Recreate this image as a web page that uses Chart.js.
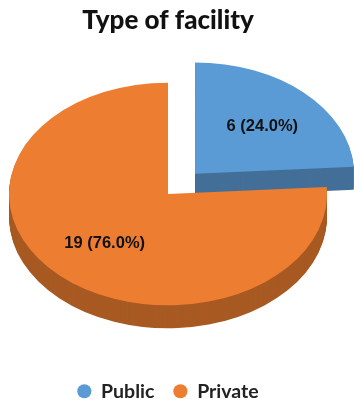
<!DOCTYPE html>
<html>
<head>
<meta charset="utf-8">
<script src="https://cdn.jsdelivr.net/npm/chart.js@4"></script>
<style>
  html, body { margin: 0; padding: 0; background: #fff; }
  canvas { display: block; }
</style>
</head>
<body>
<canvas id="grafica" width="354" height="402"></canvas>
<script>
const categorias = ['Public', 'Private'];
const valores = [6, 19];
const etiquetas = ['6 (24.0%)', '19 (76.0%)'];
const colores = ['#5B9BD5', '#ED7D31'];
const coloresLado = ['#436F98', '#A85A23'];

const inclinacion = 0.7;   // the flat pie is squashed to look tilted
const grosor = 23;         // height of the side wall
const centroY = 194;

// tilts the pie and draws the side wall plus the text on top
const pie3d = {
  id: 'pie3d',
  beforeDatasetsDraw(chart) {
    const ctx = chart.ctx;
    const arcos = chart.getDatasetMeta(0).data;
    ctx.save();
    ctx.translate(0, centroY - arcos[0].y * inclinacion);
    ctx.scale(1, inclinacion);
    arcos.forEach((arco, i) => {
      const original = arco.options;
      arco.options = { ...original, backgroundColor: coloresLado[i] };
      for (let d = grosor; d > 0; d--) {
        ctx.save();
        ctx.translate(0, d / inclinacion);
        arco.draw(ctx);
        ctx.restore();
      }
      arco.options = original;
    });
  },
  afterDatasetsDraw(chart) {
    const ctx = chart.ctx;
    ctx.restore();
    chart.getDatasetMeta(0).data.forEach((arco, i) => {
      const medio = (arco.startAngle + arco.endAngle) / 2;
      const dist = arco.outerRadius * 0.6 + arco.options.offset / 4;
      const x = arco.x + Math.cos(medio) * dist + 2;
      const y = centroY + Math.sin(medio) * dist * inclinacion + 1;
      ctx.save();
      ctx.font = 'bold 16.5px "Liberation Sans"';
      ctx.fillStyle = '#111';
      ctx.textAlign = 'center';
      ctx.textBaseline = 'middle';
      ctx.fillText(etiquetas[i], x, y);
      ctx.restore();
    });
  }
};

new Chart(document.getElementById('grafica'), {
  type: 'pie',
  data: {
    labels: categorias,
    datasets: [{
      data: valores,
      backgroundColor: colores,
      borderWidth: 0,
      offset: [158, 0],
      radius: 159,
      clip: false
    }]
  },
  options: {
    responsive: false,
    animation: false,
    layout: { padding: { right: 18, top: 0, bottom: -9 } },
    plugins: {
      tooltip: { enabled: false },
      title: {
        display: true,
        text: 'Type of facility',
        color: '#111',
        font: { family: 'Lato', size: 26, weight: '900' },
        padding: { top: 5, bottom: 8 }
      },
      legend: {
        position: 'bottom',
        labels: {
          usePointStyle: true,
          boxHeight: 10,
          boxWidth: 14,
          padding: 19,
          color: '#222',
          font: { family: 'Lato', size: 19.5, weight: 'bold' }
        }
      }
    }
  },
  plugins: [pie3d]
});
</script>
</body>
</html>
